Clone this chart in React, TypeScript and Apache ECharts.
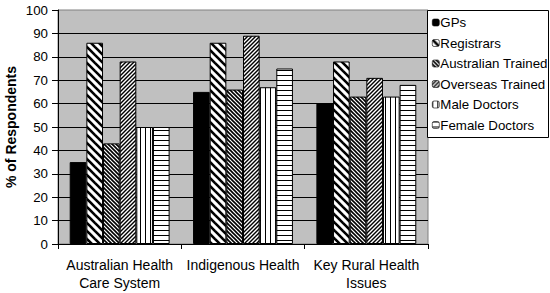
import React, { useEffect, useRef } from "react";
import * as echarts from "echarts";

const categories = ["Australian Health\nCare System", "Indigenous Health", "Key Rural Health\nIssues"];
const seriesNames = ["GPs", "Registrars", "Australian Trained", "Overseas Trained", "Male Doctors", "Female Doctors"];
const gps = [35, 65, 60];
const registrars = [86, 86, 78];
const australianTrained = [43, 66, 63];
const overseasTrained = [78, 89, 71];
const maleDoctors = [50, 67, 63];
const femaleDoctors = [50, 75, 68];
const yTicks = [0, 10, 20, 30, 40, 50, 60, 70, 80, 90, 100];

function makePattern(kind: string): any {
  if (kind === "solid") return "#000000";
  const c = document.createElement("canvas");
  let s = 8;
  if (kind === "bs-wide") s = 8;
  if (kind === "bs-dense" || kind === "fs-dense") s = 4;
  if (kind === "vert" || kind === "horiz") s = 5;
  c.width = s;
  c.height = s;
  const ctx = c.getContext("2d")!;
  ctx.fillStyle = "#ffffff";
  ctx.fillRect(0, 0, s, s);
  ctx.strokeStyle = "#000000";
  ctx.lineCap = "square";
  if (kind === "bs-wide" || kind === "bs-dense") {
    ctx.lineWidth = kind === "bs-wide" ? 2.6 : 1.6;
    for (const o of [-s, 0, s]) {
      ctx.beginPath();
      ctx.moveTo(o, 0);
      ctx.lineTo(o + s, s);
      ctx.stroke();
    }
  } else if (kind === "fs-dense") {
    ctx.lineWidth = 1.4;
    for (const o of [-s, 0, s]) {
      ctx.beginPath();
      ctx.moveTo(o + s, 0);
      ctx.lineTo(o, s);
      ctx.stroke();
    }
  } else if (kind === "vert") {
    ctx.fillStyle = "#000000";
    ctx.fillRect(0, 0, 1, s);
  } else if (kind === "horiz") {
    ctx.fillStyle = "#000000";
    ctx.fillRect(0, 0, s, 1);
  }
  return { image: c, repeat: "repeat" };
}

export default function App() {
  const ref = useRef<HTMLDivElement>(null);
  useEffect(() => {
    if (!ref.current) return;
    const chart = echarts.init(ref.current, undefined, { renderer: "svg" });
    const font = "Arial, 'Liberation Sans', sans-serif";
    const values = [gps, registrars, australianTrained, overseasTrained, maleDoctors, femaleDoctors];
    const kinds = ["solid", "bs-wide", "bs-dense", "fs-dense", "vert", "horiz"];
    chart.setOption({
      animation: false,
      textStyle: { fontFamily: font },
      grid: {
        left: 58,
        right: 122,
        top: 10,
        bottom: 49,
        outerBoundsMode: "none",
        containLabel: false,
        show: true,
        backgroundColor: "#C0C0C0",
        borderColor: "#808080",
        borderWidth: 1,
      },
      graphic: [
        {
          type: "rect",
          z: 0,
          shape: { x: 427.5, y: 10.5, width: 121, height: 127 },
          style: { fill: "#ffffff", stroke: "#000000", lineWidth: 1 },
        },
      ],
      legend: {
        orient: "vertical",
        left: 432,
        top: 16,
        padding: 0,
        itemWidth: 7,
        itemHeight: 7,
        itemGap: 7.5,
        z: 10,
        textStyle: { fontFamily: font, fontSize: 13.3, color: "#000", padding: [0, 0, 0, -4] },
        data: seriesNames.map((n) => ({ name: n, itemStyle: { borderWidth: 0.6, borderColor: "#000" } })),
      },
      xAxis: {
        type: "category",
        data: categories,
        axisLine: { lineStyle: { color: "#000", width: 1 } },
        axisTick: { show: true, length: 5, lineStyle: { color: "#000" } },
        axisLabel: { color: "#000", fontSize: 14, fontFamily: font, lineHeight: 18, margin: 12, interval: 0 },
      },
      yAxis: {
        type: "value",
        min: 0,
        max: 100,
        interval: 10,
        name: "% of Respondents",
        nameLocation: "middle",
        nameGap: 40,
        nameMoveOverlap: false,
        nameTextStyle: { fontWeight: "bold", fontSize: 14, color: "#000", fontFamily: font },
        axisLine: { show: true, lineStyle: { color: "#000" } },
        axisTick: { show: true, length: 6, lineStyle: { color: "#000" } },
        axisLabel: {
          color: "#000",
          fontSize: 13.3,
          fontFamily: font,
          margin: 10,
          formatter: (v: number) => (yTicks.includes(v) ? String(v) : ""),
        },
        splitLine: { show: true, showMaxLine: false, lineStyle: { color: "#000", width: 1 } },
      },
      series: seriesNames.map((name, i) => ({
        name,
        type: "bar",
        data: values[i],
        barGap: "0%",
        barCategoryGap: "19%",
        itemStyle: { color: makePattern(kinds[i]), borderColor: "#000", borderWidth: 1 },
      })),
    });
    return () => chart.dispose();
  }, []);
  return <div ref={ref} style={{ width: 550, height: 293, position: "absolute", left: 0, top: 0 }} />;
}
